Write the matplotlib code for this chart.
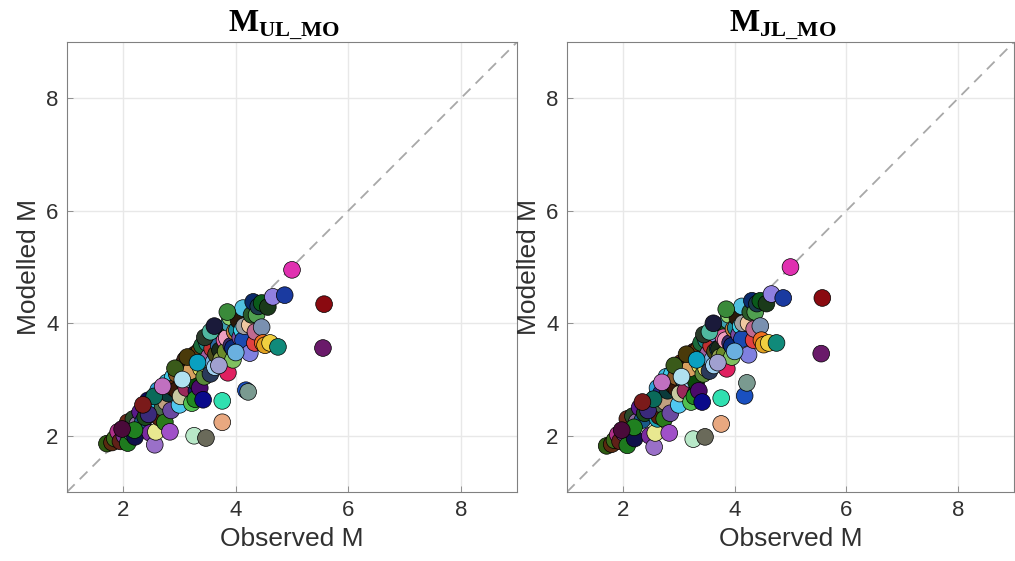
import matplotlib
matplotlib.use("Agg")
import matplotlib.pyplot as plt

plt.rcParams['font.family'] = ['Liberation Sans', 'DejaVu Sans']
plt.rcParams['mathtext.fontset'] = 'custom'
plt.rcParams['mathtext.bf'] = 'Liberation Serif:bold'
plt.rcParams['mathtext.rm'] = 'Liberation Serif'

titles = [r'$\mathbf{M}_{\mathbf{UL\_MO}}$', r'$\mathbf{M}_{\mathbf{JL\_MO}}$']
xlabel = 'Observed M'
ylabel = 'Modelled M'
ticks = [2, 4, 6, 8]
lims = [1, 9]

observed = [
    1.71, 1.80, 1.85, 1.91, 1.95, 2.02, 2.08, 2.10, 2.15, 2.21, 2.08, 2.18, 2.25, 2.30, 2.35, 2.39,
    2.44, 2.48, 2.50, 2.55, 2.56, 2.58, 2.60, 2.62, 2.62, 2.65, 2.68, 2.70, 2.74, 2.76, 2.80, 2.83, 2.78, 2.85,
    2.88, 2.90, 2.95, 2.95, 3.00, 3.00, 3.02, 3.05, 3.08, 3.10, 3.12, 3.15, 3.19, 3.22, 3.22, 3.24, 3.26, 3.28,
    3.30, 3.31, 3.20, 3.28,
    3.36, 3.36, 3.38, 3.40, 3.42, 3.44, 3.47, 3.49, 3.49, 3.52, 3.55, 3.58, 3.60, 3.63, 3.65, 3.67, 3.70, 3.72, 3.74,
    3.76, 3.76, 3.77, 3.80, 3.82, 3.84, 3.86, 3.88, 3.90, 3.92, 3.95, 3.95, 3.98, 4.02, 4.05, 4.08, 4.11, 4.13,
    4.13, 4.15, 4.18, 4.22,
    4.25, 4.25, 4.28, 4.31, 4.34, 4.35, 4.37, 4.40, 4.46, 4.46, 4.48, 4.52, 4.57, 4.61, 4.66, 4.75, 4.87,
    5.00, 5.57, 5.55,
    2.45, 2.55, 2.70, 2.92, 3.05, 3.14, 3.32, 3.45, 3.55, 3.62, 3.70, 2.35, 2.20, 1.98, 3.85, 4.00,
]

modelled_ul = [
    1.86, 1.88, 1.95, 2.07, 1.90, 2.00, 1.87, 2.15, 2.05, 1.98, 2.24, 2.30, 2.20, 2.42, 2.25, 2.33,
    2.63, 2.05, 2.45, 2.55, 1.84, 2.07, 2.55, 2.81, 2.35, 2.32, 2.70, 2.50, 2.24, 2.60, 2.75, 2.07, 2.95, 2.45,
    3.04, 2.85, 2.81, 3.10, 2.55, 3.17, 2.70, 3.25, 2.95, 3.35, 2.85, 3.05, 3.35, 2.99, 2.58, 3.29, 2.00, 3.45,
    2.80, 2.94, 3.15, 2.65,
    2.85, 3.52, 3.20, 3.60, 2.64, 3.05, 1.96, 3.26, 3.65, 3.40, 3.10, 3.55, 3.30, 3.22, 3.45, 3.74, 3.60, 3.52, 3.35,
    2.62, 2.24, 3.88, 3.70, 3.50, 3.74, 3.12, 4.00, 4.11, 3.60, 3.35, 3.56, 3.85, 3.88, 4.05, 3.75, 3.88, 3.70,
    4.27, 3.95, 2.81, 2.78,
    3.97, 3.47, 4.15, 4.38, 3.65, 3.85, 4.15, 4.30, 3.93, 4.36, 3.65, 3.61, 4.29, 3.65, 4.47, 3.58, 4.50,
    4.95, 4.34, 3.56,
    2.38, 2.70, 2.88, 3.20, 3.00, 3.40, 3.30, 3.75, 3.85, 3.95, 3.25, 2.55, 2.10, 2.12, 4.20, 3.48,
]

modelled_jl = [
    1.82, 1.85, 1.92, 2.02, 1.90, 2.05, 1.83, 2.20, 2.10, 1.95, 2.30, 2.35, 2.25, 2.50, 2.28, 2.40,
    2.55, 2.00, 2.45, 2.60, 1.80, 2.05, 2.70, 2.85, 2.30, 2.35, 2.75, 2.55, 2.30, 2.60, 2.80, 2.05, 3.05, 2.40,
    3.10, 2.90, 2.85, 3.05, 2.55, 3.20, 2.75, 3.30, 3.00, 3.30, 2.80, 3.10, 3.40, 3.00, 2.60, 3.25, 1.94, 3.50,
    2.75, 2.95, 3.20, 2.70,
    2.80, 3.55, 3.25, 3.65, 2.60, 3.10, 1.98, 3.20, 3.70, 3.45, 3.15, 3.60, 3.35, 3.25, 3.50, 3.80, 3.55, 3.55, 3.40,
    2.67, 2.21, 3.90, 3.75, 3.45, 3.70, 3.19, 4.05, 4.15, 3.65, 3.40, 3.60, 3.90, 3.92, 4.10, 3.80, 3.95, 3.72,
    4.30, 4.00, 2.71, 2.94,
    4.00, 3.44, 4.20, 4.40, 3.70, 3.90, 4.20, 4.35, 3.95, 4.40, 3.70, 3.62, 4.35, 3.65, 4.52, 3.65, 4.45,
    5.00, 4.45, 3.46,
    2.45, 2.65, 2.95, 3.25, 3.05, 3.45, 3.35, 3.80, 3.85, 4.00, 3.30, 2.60, 2.15, 2.10, 4.25, 3.50,
]

colors = [
    '#2e5a12', '#5a2a10', '#3a6a1a', '#b0308a', '#602018', '#7a3090', '#1e7a1e', '#4a1a0a',
    '#3a8a5a', '#10104a', '#6a2a1a', '#2a4a2a', '#8a6a9a', '#5a1a8a', '#1a5a8a', '#1a4a1a',
    '#0a0a5a', '#7a2aa0', '#6a3a1a', '#2a8aa0', '#9a70c8', '#e8e890', '#20c0e0', '#30a0d8',
    '#1aa0b0', '#5a2010', '#2a2a8a', '#4a6a4a', '#2a7a1a', '#c0a080', '#0a3a3a', '#a050c8',
    '#40b8e0', '#6a4aa0',
    '#40c8e8', '#602a0a', '#3a1a0a', '#8a5a2a', '#50c8f0', '#5a200a', '#c8c8a0', '#7a3a1a',
    '#2a5a7a', '#4a2a1a', '#9a2a5a', '#e0d0a0', '#5a2a0a', '#a0c8e8', '#50c050', '#8a8a8a',
    '#b8e8c8', '#3a1a1a', '#1a1a6a', '#0a4a0a', '#d8a060', '#208a20',
    '#4a0a6a', '#6a3a0a', '#e0e060', '#1a6a3a', '#0a0a8a', '#5a8a3a', '#6a6a5a', '#f0e070',
    '#1a8a8a', '#a060a0', '#2a3a5a', '#c03030', '#7ab0e0', '#a0d0f0', '#4a4a1a', '#8a90e0',
    '#2a6aa0', '#1a2a1a', '#90a050',
    '#30e0b0', '#e8a880', '#1a5a1a', '#e060a0', '#6a8a2a', '#f0a0c0', '#e02060', '#40a0b0',
    '#90d070', '#3a2a6a', '#80c060', '#0a2a7a', '#c0803a', '#1a8a9a', '#2a1a0a', '#7a4aa0',
    '#40d0e8', '#1a4ab0', '#50c0e0', '#a0a0a0', '#1a50c0', '#7a9a90',
    '#f0c8a0', '#8080e0', '#2a5a2a', '#0a2a6a', '#e04040', '#c06a90', '#50a050', '#1a3a4a',
    '#7a90b0', '#0a5a1a', '#f07020', '#e0a020', '#1a3a1a', '#f0d040', '#9080e0', '#108a7a',
    '#1a3aa0',
    '#e030b0', '#8a0a10', '#6a1a6a',
    '#3a2a7a', '#0a6a5a', '#c070c0', '#3a5a1a', '#b0e0f0', '#4a3a0a', '#0aa0c0', '#2a3a2a',
    '#50b8a0', '#1a1a3a', '#a0a0d0', '#7a1a1a', '#208020', '#4a0a3a', '#3a8a3a', '#6ab0e0',
]

fig = plt.figure(figsize=(10.15, 5.61), dpi=100)
positions = [[0.066, 0.123, 0.4434, 0.802], [0.5586, 0.123, 0.4404, 0.802]]
series = [modelled_ul, modelled_jl]
txt = '#303030'

for pos, ys, title in zip(positions, series, titles):
    ax = fig.add_axes(pos)
    ax.plot(lims, lims, linestyle=(0, (6, 4)), color='#a8a8a8', linewidth=1.3, zorder=1)
    ax.scatter(observed, ys, s=145, c=colors, edgecolors='black', linewidths=0.5, zorder=3)
    ax.set_xlim(lims)
    ax.set_ylim(lims)
    ax.set_xticks(ticks)
    ax.set_yticks(ticks)
    ax.grid(True, color='#e8e8e8', linewidth=1.0, zorder=0)
    ax.set_axisbelow(True)
    ax.tick_params(direction='in', length=4, width=0.6, colors='#808080',
                   labelcolor=txt, labelsize=16, pad=6)
    for sp in ax.spines.values():
        sp.set_color('#808080')
        sp.set_linewidth(0.8)
    ax.set_xlabel(xlabel, fontsize=19, color=txt, labelpad=4)
    ax.set_ylabel(ylabel, fontsize=19, color=txt, labelpad=4)
    t = ax.set_title(title, fontsize=23, color='black', pad=4)
    t.set_x(0.482)

fig.savefig('out.png', dpi=100)
